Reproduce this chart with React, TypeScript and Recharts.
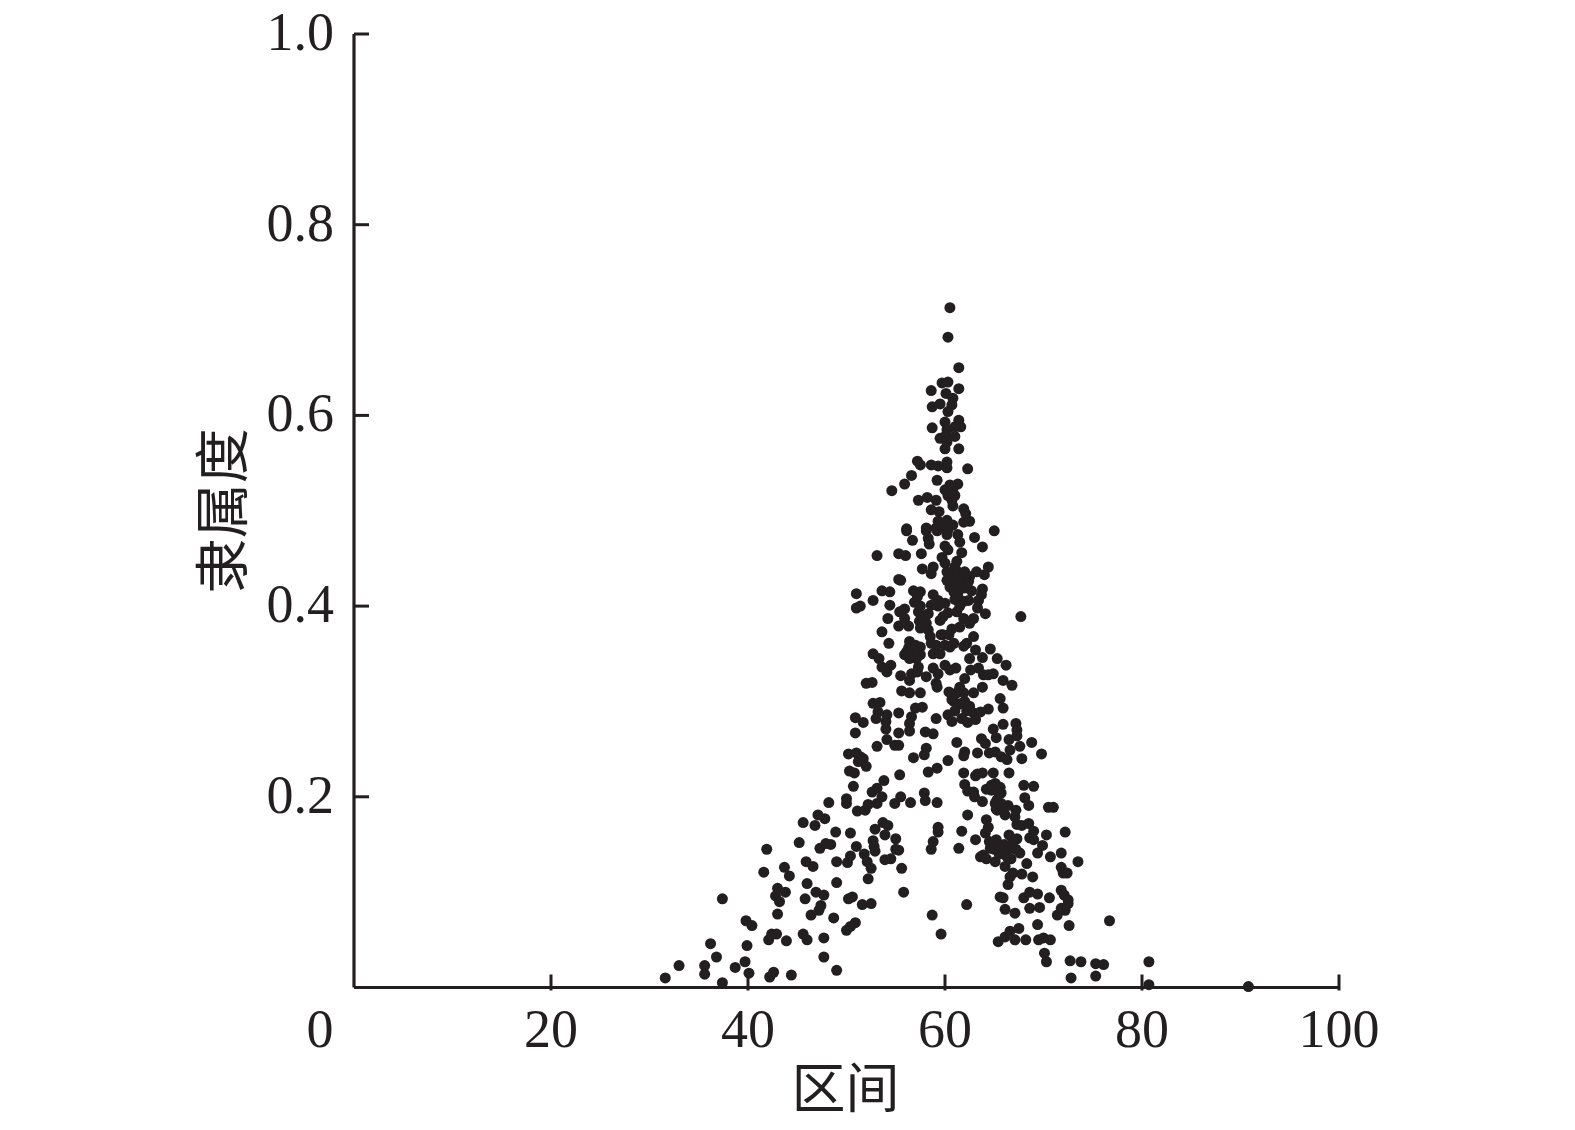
import { Label, ScatterChart, Scatter, XAxis, YAxis } from "recharts";

const INK = "#231f20";
const SERIF = '"Liberation Serif", "Noto Sans CJK SC", serif';

const X_TICKS = [0, 20, 40, 60, 80, 100];
const Y_TICKS = [0, 0.2, 0.4, 0.6, 0.8, 1];

// values, one region of the cloud at a time
const lowerLeftX = [
  31.6, 33.0, 35.6, 35.6, 37.4, 36.8, 36.2, 37.4, 38.7, 39.7, 40.1, 39.9, 42.2, 42.6, 44.4, 42.1, 42.4, 42.9, 43.9, 49.0,
  47.7, 47.7, 45.6, 46.0, 39.8, 40.4, 43.0, 46.4, 47.2, 47.4, 48.7, 50.0, 50.4, 50.9, 45.8, 46.9, 47.7, 43.2, 42.8, 43.0,
  43.8, 49.0, 46.0, 41.6, 41.9, 43.7, 44.2, 45.9, 46.6, 49.0, 50.1, 50.4, 51.8, 52.1, 52.5, 52.2, 55.6, 55.8, 50.2, 50.6,
  51.6, 52.5, 58.7, 59.6, 62.2, 65.4, 65.6, 45.2, 47.3, 47.9, 48.4, 51.0, 52.7, 52.8, 52.9, 53.9, 54.5, 55.0, 55.3, 55.0,
  53.9, 52.9, 53.7, 54.2, 50.4, 48.9, 46.8, 45.6, 47.1, 47.8, 48.2, 50.0, 50.0, 50.7, 51.1, 51.9, 52.2, 53.1, 53.6, 52.6,
  53.1, 53.8, 54.9, 55.5, 56.5, 57.9, 58.0, 59.2, 58.6, 58.8, 59.3, 59.3, 61.4, 61.7, 62.3, 63.1, 64.2, 64.4, 64.1, 62.0,
  62.3, 62.9, 63.0, 63.8, 64.2, 64.7, 65.1, 65.2, 65.2, 63.6, 64.2, 64.5, 64.6, 63.9, 65.1, 65.2, 65.4,
];
const lowerLeftY = [
  0.01, 0.023, 0.023, 0.014, 0.005, 0.032, 0.046, 0.093, 0.021, 0.027, 0.015, 0.044, 0.011, 0.016, 0.013, 0.05, 0.056, 0.056, 0.049, 0.018,
  0.032, 0.052, 0.056, 0.05, 0.07, 0.065, 0.077, 0.076, 0.081, 0.086, 0.073, 0.06, 0.064, 0.068, 0.093, 0.1, 0.097, 0.09, 0.096, 0.104,
  0.1, 0.11, 0.109, 0.121, 0.145, 0.126, 0.117, 0.132, 0.127, 0.132, 0.131, 0.138, 0.14, 0.132, 0.125, 0.114, 0.125, 0.1, 0.093, 0.095,
  0.087, 0.088, 0.076, 0.056, 0.087, 0.048, 0.095, 0.152, 0.146, 0.151, 0.15, 0.148, 0.154, 0.148, 0.143, 0.134, 0.135, 0.145, 0.144, 0.156,
  0.16, 0.166, 0.173, 0.17, 0.162, 0.163, 0.17, 0.173, 0.181, 0.177, 0.194, 0.198, 0.193, 0.211, 0.185, 0.186, 0.192, 0.193, 0.2, 0.205,
  0.209, 0.217, 0.193, 0.2, 0.194, 0.204, 0.196, 0.194, 0.145, 0.153, 0.168, 0.163, 0.146, 0.164, 0.181, 0.155, 0.176, 0.168, 0.162, 0.213,
  0.206, 0.205, 0.2, 0.195, 0.208, 0.207, 0.214, 0.195, 0.187, 0.137, 0.135, 0.153, 0.146, 0.139, 0.132, 0.155, 0.148,
];

const lowerRightX = [
  61.9, 63.1, 63.3, 63.8, 64.9, 65.7, 66.4, 66.1, 67.2, 67.1, 67.3, 67.8, 68.5, 69.0, 68.6, 69.0, 69.9, 70.3, 69.4, 70.7,
  71.8, 72.2, 73.5, 71.8, 72.0, 72.4, 66.4, 66.6, 66.9, 67.8, 68.9, 65.9, 66.1, 67.1, 68.0, 68.6, 69.4, 70.6, 68.6, 69.6,
  71.8, 72.1, 72.5, 72.5, 71.8, 72.2, 71.4, 72.6, 76.7, 69.4, 66.1, 66.6, 67.1, 67.5, 68.2, 69.5, 70.0, 70.7, 70.1, 70.3,
  72.7, 73.8, 75.3, 76.1, 72.8, 75.3, 80.7, 80.7, 90.8, 65.9, 66.1, 66.3, 66.8, 67.3, 67.6, 68.3, 66.6, 68.0, 69.0, 68.1,
  68.5, 70.5, 71.0, 66.5, 65.7, 64.7, 65.4, 65.1, 65.3,
];
const lowerRightY = [
  0.225, 0.222, 0.224, 0.225, 0.225, 0.193, 0.191, 0.181, 0.186, 0.179, 0.171, 0.17, 0.172, 0.164, 0.157, 0.155, 0.149, 0.16, 0.141, 0.137,
  0.141, 0.163, 0.132, 0.126, 0.12, 0.12, 0.108, 0.116, 0.12, 0.119, 0.116, 0.094, 0.082, 0.078, 0.094, 0.1, 0.098, 0.094, 0.083, 0.084,
  0.102, 0.097, 0.092, 0.088, 0.083, 0.081, 0.076, 0.065, 0.07, 0.066, 0.053, 0.059, 0.05, 0.062, 0.05, 0.05, 0.052, 0.05, 0.036, 0.027,
  0.028, 0.027, 0.025, 0.024, 0.01, 0.012, 0.027, 0.003, 0.001, 0.141, 0.127, 0.137, 0.151, 0.156, 0.141, 0.13, 0.146, 0.212, 0.211, 0.199,
  0.191, 0.189, 0.189, 0.225, 0.204, 0.212, 0.205, 0.193, 0.186,
];

const middleX = [
  56.1, 58.1, 59.2, 60.2, 61.3, 56.7, 58.3, 58.4, 63.0, 65.0, 61.5, 63.8, 60.0, 60.3, 61.7, 53.1, 55.3, 56.0, 57.6, 59.7,
  60.0, 61.2, 61.0, 57.7, 58.8, 58.6, 64.4, 63.2, 64.0, 60.2, 60.7, 61.3, 62.0, 62.5, 60.2, 60.8, 61.7, 62.4, 60.5, 61.2,
  62.0, 61.3, 62.7, 61.0, 61.9, 62.4, 63.4, 63.8, 63.7, 63.3, 64.1, 67.7, 55.3, 55.5, 51.0, 53.6, 54.4, 52.7, 54.4, 51.0,
  51.4, 56.8, 57.5, 57.2, 56.9, 58.8, 59.3, 60.0, 57.3, 55.9, 55.4, 58.3, 58.6, 61.2, 54.2, 55.9, 55.3, 56.3, 57.4, 57.5,
  58.1, 58.3, 59.8, 59.5, 61.9, 62.9, 62.5, 61.5, 60.7, 53.6, 58.5, 59.8, 54.3, 56.4, 57.0, 56.3, 57.5, 55.9, 56.8, 57.5,
  56.4, 57.3, 58.6, 59.1, 60.0, 60.9, 60.5, 62.2, 62.9, 61.9, 58.8, 59.5, 63.1, 64.6, 62.5, 63.8, 65.3, 66.2, 52.7, 53.3,
  53.6, 54.1, 54.5, 55.5, 56.6, 56.4, 57.2, 58.1, 58.8, 59.3, 60.0, 60.5, 61.1, 62.0, 62.6, 63.4, 63.9, 64.9, 65.9, 66.8,
  64.4, 59.1, 59.2, 52.0, 52.6, 55.6, 56.4, 57.5, 61.5, 61.2, 60.7, 61.9, 62.9, 63.8, 65.6, 65.9, 52.7, 53.4, 55.3, 53.2,
  54.1, 53.0, 54.0, 54.0, 50.9, 51.7, 50.9, 56.6, 56.4, 57.0, 57.7, 59.1, 61.7, 62.5, 62.9, 64.4, 63.6, 60.3, 60.7, 61.7,
  62.3, 63.1, 55.3, 56.4, 58.0, 58.8, 64.9, 65.9, 67.2, 67.3, 67.3, 54.1, 54.9, 55.3, 53.1, 61.2, 63.7, 64.1, 65.2, 66.5,
  68.8, 67.6, 58.1, 57.9, 56.8, 62.0, 61.9, 63.3, 64.5, 65.1, 65.7, 66.6, 66.3, 67.8, 69.8, 50.2, 51.0, 51.7, 51.2, 52.0,
  50.3, 50.8, 60.3, 59.2, 58.3, 55.4, 65.6, 51.4,
];
const middleY = [
  0.479, 0.479, 0.479, 0.475, 0.475, 0.469, 0.471, 0.465, 0.472, 0.479, 0.467, 0.462, 0.463, 0.459, 0.456, 0.453, 0.455, 0.453, 0.455, 0.451,
  0.445, 0.447, 0.441, 0.439, 0.441, 0.434, 0.441, 0.436, 0.433, 0.436, 0.433, 0.436, 0.436, 0.431, 0.427, 0.426, 0.427, 0.426, 0.42, 0.419,
  0.419, 0.413, 0.416, 0.407, 0.405, 0.406, 0.406, 0.418, 0.412, 0.398, 0.392, 0.389, 0.428, 0.427, 0.413, 0.416, 0.415, 0.406, 0.401, 0.398,
  0.4, 0.416, 0.415, 0.41, 0.404, 0.412, 0.406, 0.403, 0.394, 0.397, 0.394, 0.392, 0.401, 0.394, 0.387, 0.387, 0.379, 0.379, 0.384, 0.377,
  0.382, 0.375, 0.389, 0.385, 0.387, 0.387, 0.382, 0.378, 0.376, 0.373, 0.368, 0.37, 0.361, 0.363, 0.359, 0.356, 0.357, 0.349, 0.35, 0.349,
  0.345, 0.336, 0.361, 0.359, 0.359, 0.361, 0.357, 0.361, 0.368, 0.358, 0.35, 0.35, 0.354, 0.355, 0.345, 0.346, 0.345, 0.338, 0.35, 0.345,
  0.336, 0.331, 0.338, 0.327, 0.329, 0.322, 0.331, 0.326, 0.335, 0.329, 0.338, 0.333, 0.335, 0.324, 0.333, 0.335, 0.328, 0.329, 0.322, 0.317,
  0.328, 0.319, 0.315, 0.319, 0.32, 0.311, 0.309, 0.309, 0.315, 0.309, 0.302, 0.309, 0.309, 0.315, 0.303, 0.293, 0.298, 0.299, 0.288, 0.289,
  0.286, 0.282, 0.279, 0.271, 0.283, 0.278, 0.267, 0.284, 0.277, 0.293, 0.294, 0.282, 0.298, 0.295, 0.288, 0.292, 0.289, 0.286, 0.279, 0.282,
  0.278, 0.281, 0.267, 0.269, 0.268, 0.266, 0.271, 0.276, 0.277, 0.27, 0.264, 0.26, 0.254, 0.254, 0.253, 0.257, 0.261, 0.256, 0.262, 0.26,
  0.257, 0.253, 0.251, 0.244, 0.241, 0.247, 0.243, 0.246, 0.246, 0.247, 0.242, 0.249, 0.239, 0.24, 0.245, 0.245, 0.246, 0.24, 0.237, 0.232,
  0.227, 0.225, 0.238, 0.23, 0.226, 0.223, 0.21, 0.242,
];

const peakX = [
  60.5, 60.3, 61.4, 59.7, 60.3, 58.6, 61.4, 60.1, 60.8, 60.7, 59.5, 58.7, 60.3, 60.0, 61.4, 58.7, 61.6, 61.0, 60.2, 60.0,
  61.0, 59.5, 60.2, 60.0, 61.4, 57.2, 57.5, 58.6, 59.3, 60.2, 60.2, 62.3, 56.6, 55.9, 54.6, 59.2, 61.3, 60.5, 60.0, 60.8,
  60.3, 61.0, 60.7, 60.8, 57.3, 58.2, 59.1, 58.6, 59.4, 61.9, 62.1, 62.5, 61.9, 59.3, 60.2, 60.8, 59.1, 59.8, 60.3, 56.1,
  58.1,
];
const peakY = [
  0.713, 0.682, 0.65, 0.634, 0.635, 0.626, 0.628, 0.623, 0.618, 0.611, 0.612, 0.609, 0.604, 0.593, 0.595, 0.587, 0.588, 0.588, 0.585, 0.578,
  0.578, 0.576, 0.572, 0.565, 0.565, 0.552, 0.548, 0.548, 0.547, 0.551, 0.545, 0.544, 0.537, 0.528, 0.521, 0.532, 0.528, 0.527, 0.522, 0.522,
  0.516, 0.516, 0.511, 0.505, 0.511, 0.514, 0.511, 0.501, 0.499, 0.502, 0.497, 0.489, 0.488, 0.489, 0.49, 0.485, 0.482, 0.483, 0.48, 0.481,
  0.482,
];

// the overlapping clumps, where single dots can only be estimated
const clumpX = [
  56.8, 57.2, 56.1, 57.1, 60.9, 61.4, 61.0, 62.0, 62.2, 60.4, 65.5, 66.7, 67.2, 66.0, 65.0, 66.5, 65.8, 65.3, 59.6, 60.4,
  58.0, 57.5, 59.3, 60.3, 61.5, 61.3, 60.9,
];
const clumpY = [
  0.357, 0.352, 0.352, 0.345, 0.3, 0.297, 0.29, 0.3, 0.29, 0.31, 0.14, 0.135, 0.145, 0.15, 0.145, 0.16, 0.19, 0.197, 0.37, 0.37,
  0.39, 0.4, 0.4, 0.393, 0.4, 0.425, 0.415,
];

const intervals = [...lowerLeftX, ...lowerRightX, ...middleX, ...peakX, ...clumpX];
const memberships = [...lowerLeftY, ...lowerRightY, ...middleY, ...peakY, ...clumpY];
const points = intervals.map((x, i) => ({ x, y: memberships[i] ?? 0 }));

function XTick({ x, y, payload }: any) {
  const value = payload.value;
  return (
    <g>
      {value !== 0 && <line x1={x} x2={x} y1={y - 13} y2={y + 3} stroke={INK} strokeWidth={3} />}
      <text x={value === 0 ? x - 34 : x} y={y + 59} textAnchor="middle" fontFamily={SERIF} fontSize={54} fill={INK}>
        {value}
      </text>
    </g>
  );
}

function YTick({ x, y, payload }: any) {
  const value = payload.value;
  if (value === 0) return <g />;
  return (
    <g>
      <line x1={x} x2={x + 15} y1={y} y2={y} stroke={INK} strokeWidth={3} />
      <text x={x - 20} y={y + 16} textAnchor="end" fontFamily={SERIF} fontSize={54} fill={INK}>
        {value.toFixed(1)}
      </text>
    </g>
  );
}

function XTitle({ viewBox }: any) {
  return (
    <text x={viewBox.x + viewBox.width / 2 - 1} y={viewBox.y + 102} textAnchor="middle" dominantBaseline="central" fontFamily={SERIF} fontSize={54} fill={INK}>
      区间
    </text>
  );
}

function YTitle({ viewBox }: any) {
  const cy = viewBox.y + viewBox.height / 2;
  return (
    <text x={223} y={cy} transform={`rotate(-90 223 ${cy})`} textAnchor="middle" dominantBaseline="central" fontFamily={SERIF} fontSize={55} fill={INK}>
      隶属度
    </text>
  );
}

function Dot({ cx, cy }: any) {
  return <circle cx={cx} cy={cy} r={5.5} fill={INK} />;
}

export default function App() {
  return (
    <div style={{ position: "absolute", left: 0, top: 0, width: 1575, height: 1130, background: "#fff" }}>
      <ScatterChart width={1575} height={1130} margin={{ top: 34, right: 236, bottom: 0, left: 0 }}>
        <XAxis
          type="number"
          dataKey="x"
          domain={[0, 100]}
          ticks={X_TICKS}
          interval={0}
          height={142.5}
          tickSize={0}
          tickMargin={0}
          tick={XTick}
          axisLine={{ stroke: INK, strokeWidth: 3.2 }}
        >
          <Label content={XTitle} />
        </XAxis>
        <YAxis
          type="number"
          dataKey="y"
          domain={[0, 1]}
          ticks={Y_TICKS}
          interval={0}
          width={354}
          tickSize={0}
          tickMargin={0}
          tick={YTick}
          axisLine={{ stroke: INK, strokeWidth: 3.2 }}
        >
          <Label content={YTitle} />
        </YAxis>
        <Scatter data={points} shape={Dot} isAnimationActive={false} />
      </ScatterChart>
    </div>
  );
}
